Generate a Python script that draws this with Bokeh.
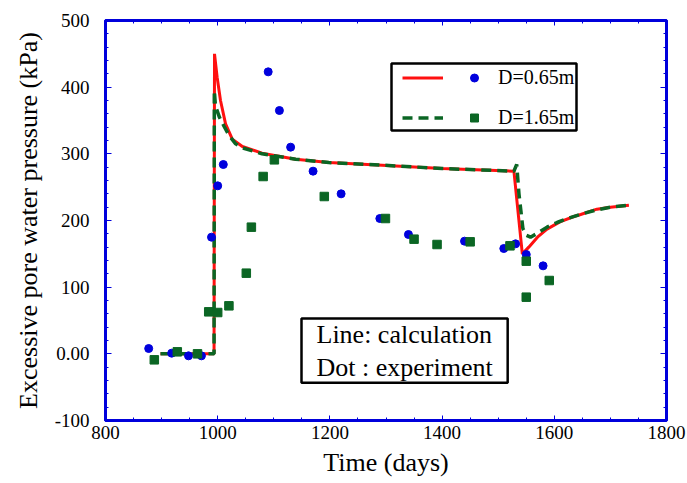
from bokeh.plotting import figure
from bokeh.models import (Range1d, FixedTicker, LinearAxis, Legend, LegendItem, Label, BoxAnnotation)
from bokeh.embed import file_html
from bokeh.resources import INLINE

# ---------------- data ----------------
# calculated curves (Line)
calc_065_days = [898, 993.5, 994.3, 999, 1005, 1014, 1026, 1044, 1079, 1139, 1198, 1293, 1400,
                 1528, 1543, 1554.5, 1570, 1587, 1610, 1635, 1647, 1676, 1700, 1733]
calc_065_kpa = [0, 0, 450, 415, 380, 345, 322, 311, 301, 292, 287, 283, 278,
                274, 150, 160, 175, 187, 198, 206, 209, 217, 220, 223]

calc_165_days = [898, 993.5, 994, 996, 1003, 1011, 1020, 1032, 1044, 1079, 1139, 1198, 1293, 1400,
                 1528, 1533, 1537, 1544, 1550, 1557.6, 1570, 1587, 1605, 1623, 1650, 1676, 1700, 1733]
calc_165_kpa = [0, 0, 395, 372, 355, 342, 328, 315, 309, 300, 292, 287, 283, 278,
                274, 284, 240, 188, 178, 175, 181, 190, 197, 203, 210, 216, 220, 223]

# measured points (Dot)
exp_065_days = [877, 918, 948, 971, 989, 1000, 1010, 1090, 1110, 1130, 1170, 1220, 1289,
                1340, 1440, 1510, 1531, 1550, 1580]
exp_065_kpa = [8, 1, -3, -3, 175, 252, 284, 423, 365, 310, 274, 240, 203,
               179, 169, 158, 165, 149, 132]

exp_165_days = [887, 928, 964, 984, 1000, 1020, 1051, 1060, 1081, 1101, 1190, 1299,
                1350, 1391, 1450, 1521, 1550, 1550, 1591]
exp_165_kpa = [-9, 3, 0, 63, 62, 72, 121, 190, 266, 291, 236, 203,
               172, 164, 168, 162, 139, 85, 110]

x_major = [800, 1000, 1200, 1400, 1600, 1800]
x_minor = list(range(800, 1801, 50))
y_major = [-100, 0, 100, 200, 300, 400, 500]
y_minor = list(range(-100, 501, 20))
y_labels = {-100: "-100", 0: "0.00", 100: "100", 200: "200", 300: "300", 400: "400", 500: "500"}

x_title = "Time (days)"
y_title = "Excessive pore water pressure (kPa)"

# ---------------- style ----------------
FONT = "Liberation Serif"
BLUE_FRAME = "#0000dc"
RED = "#ff1010"
GREEN = "#0b6624"
DOT_BLUE = "#0000dd"

p = figure(width=687, height=483, output_backend="svg", toolbar_location=None,
           x_range=Range1d(800, 1800), y_range=Range1d(-100, 500),
           min_border_left=105, min_border_right=21, min_border_top=20, min_border_bottom=63)
p.background_fill_color = "white"
p.border_fill_color = "white"
p.grid.visible = False
p.outline_line_color = BLUE_FRAME
p.outline_line_width = 3

xt = FixedTicker(ticks=x_major, minor_ticks=x_minor)
yt = FixedTicker(ticks=y_major, minor_ticks=y_minor)

for ax in p.xaxis:
    ax.ticker = xt
for ax in p.yaxis:
    ax.ticker = yt
    ax.major_label_overrides = y_labels


def style_axis(ax, major_in, minor_in):
    ax.axis_line_color = BLUE_FRAME
    ax.axis_line_width = 3
    ax.major_tick_line_color = BLUE_FRAME
    ax.minor_tick_line_color = BLUE_FRAME
    ax.major_tick_line_width = 1
    ax.minor_tick_line_width = 1
    ax.major_tick_in = major_in
    ax.major_tick_out = 0
    ax.minor_tick_in = minor_in
    ax.minor_tick_out = 0
    ax.major_label_text_font = FONT
    ax.major_label_text_font_size = "19px"
    ax.major_label_text_color = "black"
    ax.axis_label_text_font = FONT
    ax.axis_label_text_font_size = "26px"
    ax.axis_label_text_font_style = "normal"
    ax.axis_label_text_color = "black"


style_axis(p.xaxis[0], 5, 3)
style_axis(p.yaxis[0], 6, 3)
p.xaxis[0].axis_label = x_title
p.yaxis[0].axis_label = y_title
p.xaxis[0].major_label_standoff = 5
p.xaxis[0].axis_label_standoff = 6
p.yaxis[0].major_label_standoff = 16
p.yaxis[0].axis_label_standoff = 9

top_ax = LinearAxis(ticker=FixedTicker(ticks=x_major, minor_ticks=x_minor))
right_ax = LinearAxis(ticker=FixedTicker(ticks=y_major, minor_ticks=y_minor))
for ax, mi in ((top_ax, 5), (right_ax, 6)):
    style_axis(ax, mi, 3)
    ax.major_label_text_font_size = "0px"
    ax.major_label_standoff = 0
    ax.major_label_text_color = None
p.add_layout(top_ax, "above")
p.add_layout(right_ax, "right")

# ---------------- glyphs ----------------
r_red = p.line(calc_065_days, calc_065_kpa, line_color=RED, line_width=3)
r_green = p.line(calc_165_days, calc_165_kpa, line_color=GREEN, line_width=3.5, line_dash="10 6")
r_circ = p.scatter(exp_065_days, exp_065_kpa, marker="circle", size=8,
                   fill_color=DOT_BLUE, line_color=DOT_BLUE)
r_sq = p.scatter(exp_165_days, exp_165_kpa, marker="square", size=8.5,
                 fill_color=GREEN, line_color=GREEN)

# legend frame (screen units, relative to the plot frame)
legend_frame = BoxAnnotation(left=286, right=471, bottom=290, top=357,
                             left_units="screen", right_units="screen",
                             bottom_units="screen", top_units="screen",
                             fill_color="white", fill_alpha=1,
                             line_color="black", line_width=2.5, line_alpha=1)
p.add_layout(legend_frame)

common = dict(border_line_color=None, background_fill_alpha=0, padding=0, margin=0,
              glyph_height=25, spacing=15, orientation="vertical",
              label_text_font=FONT, label_text_font_size="20px", label_text_color="black")

legend_lines = Legend(items=[LegendItem(label="", renderers=[r_red]),
                             LegendItem(label="", renderers=[r_green])],
                      location=(297, 290), glyph_width=41, label_standoff=0, **common)
legend_marks = Legend(items=[LegendItem(label="D=0.65m", renderers=[r_circ]),
                             LegendItem(label="D=1.65m", renderers=[r_sq])],
                      location=(359, 290), glyph_width=20, label_standoff=14, **common)
p.add_layout(legend_lines, "center")
p.add_layout(legend_marks, "center")

box = Label(x=196, y=102, x_units="screen", y_units="screen",
            text="Line: calculation\nDot : experiment",
            text_font=FONT, text_font_size="26px", text_color="black",
            text_align="left", text_baseline="top", text_line_height=1.15,
            border_line_color="black", border_line_width=2.5,
            background_fill_color="white",
            padding=dict(left=15, right=15, top=1, bottom=1))
p.add_layout(box)

open("out.html", "w").write(file_html(p, INLINE))
